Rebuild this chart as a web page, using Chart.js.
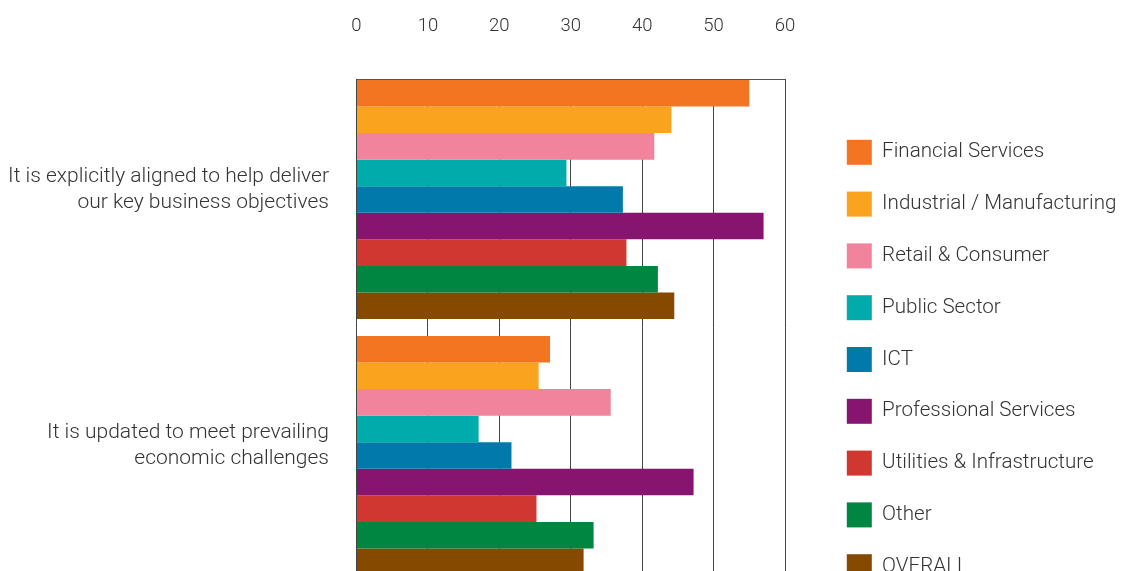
<!DOCTYPE html>
<html>
<head>
<meta charset="utf-8">
<script src="https://cdn.jsdelivr.net/npm/chart.js@4/dist/chart.umd.min.js"></script>
<style>
  html, body { margin: 0; padding: 0; background: #fff; overflow: hidden; }
  #wrap { position: relative; width: 1129px; height: 719px; }
</style>
</head>
<body>
<div id="wrap"><canvas id="chart"></canvas></div>
<script>
const categories = [
  ["It is explicitly aligned to help deliver", "our key business objectives"],
  ["It is updated to meet prevailing", "economic challenges"]
];
const seriesNames = [
  "Financial Services", "Industrial / Manufacturing", "Retail & Consumer",
  "Public Sector", "ICT", "Professional Services",
  "Utilities & Infrastructure", "Other", "OVERALL"
];
const seriesColors = [
  "#f37421", "#f9a31e", "#f2839c", "#00abab", "#017aab",
  "#871570", "#d13731", "#008641", "#854a00"
];
// values per series: [aligned, updated]
const financial = [55, 27.1];
const industrial = [44.1, 25.5];
const retail = [41.7, 35.6];
const publicSector = [29.4, 17.1];
const ict = [37.3, 21.7];
const professional = [57, 47.2];
const utilities = [37.8, 25.2];
const other = [42.2, 33.2];
const overall = [44.5, 31.8];
const xTicks = [0, 10, 20, 30, 40, 50, 60];

const seriesValues = [financial, industrial, retail, publicSector, ict,
  professional, utilities, other, overall];

const PLOT_LEFT = 356.5;
const PLOT_RIGHT = 785;
const PLOT_TOP = 71.5;
const PLOT_BOTTOM = 583.5;
const LEGEND_WIDTH = 309;

const font = "Roboto, 'Open Sans', sans-serif";
const textColor = "#333";

// top frame line sits on the first bar's top edge
const frameLine = {
  id: "frameLine",
  afterDatasetsDraw(chart) {
    const bar = chart.getDatasetMeta(0).data[0];
    const top = bar.y - bar.height / 2;
    const a = chart.chartArea;
    const ctx = chart.ctx;
    ctx.save();
    ctx.fillStyle = "#fff";
    ctx.fillRect(a.left - 2, a.top - 1, a.right - a.left + 4, top - a.top);
    ctx.strokeStyle = "#555";
    ctx.lineWidth = 1;
    ctx.beginPath();
    ctx.moveTo(a.left, Math.round(top) - 0.5);
    ctx.lineTo(a.right, Math.round(top) - 0.5);
    ctx.stroke();
    ctx.restore();
  }
};

// keep the legend column a fixed width
const legendWidth = {
  id: "legendWidth",
  beforeLayout(chart) {
    const lg = chart.legend;
    if (!lg || lg._fixedFit) return;
    const fit = lg.fit;
    lg.fit = function () {
      fit.call(this);
      this.width = LEGEND_WIDTH;
    };
    lg._fixedFit = true;
  }
};

new Chart(document.getElementById("chart"), {
  type: "bar",
  data: {
    labels: categories,
    datasets: seriesNames.map((name, i) => ({
      label: name,
      data: seriesValues[i],
      backgroundColor: seriesColors[i],
      borderWidth: 0,
      barPercentage: 1,
      categoryPercentage: 0.934
    }))
  },
  options: {
    indexAxis: "y",
    responsive: true,
    maintainAspectRatio: false,
    animation: false,
    layout: { padding: 0 },
    plugins: {
      tooltip: { enabled: false },
      legend: {
        position: "right",
        align: "center",
        labels: {
          boxWidth: 25,
          boxHeight: 25,
          padding: 26.8,
          color: textColor,
          font: { family: font, size: 20.6, weight: "300" }
        }
      }
    },
    scales: {
      x: {
        position: "top",
        min: 0,
        max: 60,
        afterBuildTicks: s => { s.ticks = xTicks.map(v => ({ value: v })); },
        afterFit: s => { s.height = PLOT_TOP; },
        grid: { color: "#444", lineWidth: 1, drawTicks: false },
        border: { display: false },
        ticks: {
          padding: 34,
          color: textColor,
          font: { family: font, size: 18.5, weight: "300" }
        }
      },
      xPad: {
        position: "bottom",
        type: "linear",
        afterFit: s => { s.height = s.chart.height - PLOT_BOTTOM; },
        grid: { display: false },
        border: { display: false },
        ticks: { display: false }
      },
      y: {
        afterFit: s => { s.width = PLOT_LEFT; },
        grid: { display: false, drawTicks: false },
        border: { display: false },
        ticks: {
          padding: 27.5,
          labelOffset: -10,
          color: textColor,
          font: { family: font, size: 21, weight: "300", lineHeight: 1.24 }
        }
      },
      yPad: {
        position: "right",
        type: "linear",
        afterFit: s => { s.width = s.chart.width - LEGEND_WIDTH - PLOT_RIGHT; },
        grid: { display: false },
        border: { display: false },
        ticks: { display: false }
      }
    }
  },
  plugins: [frameLine, legendWidth]
});
</script>
</body>
</html>
